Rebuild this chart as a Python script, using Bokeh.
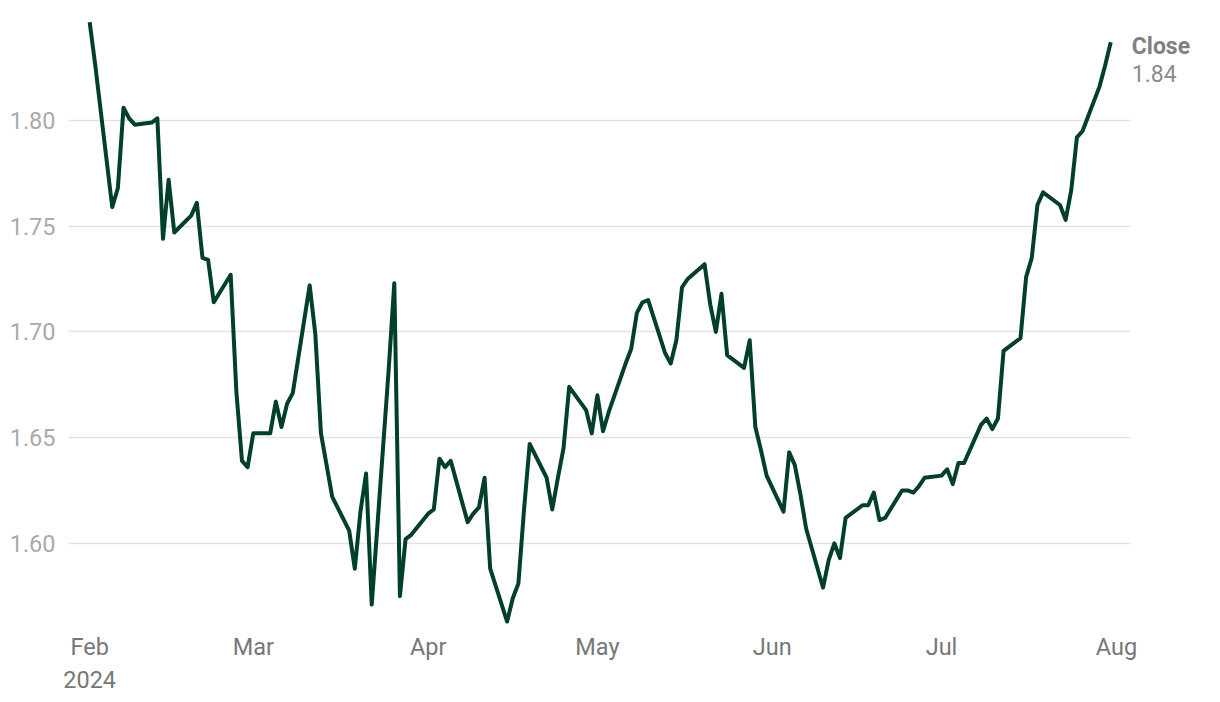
from datetime import datetime
from bokeh.plotting import figure
from bokeh.models import (ColumnDataSource, MonthsTicker, DatetimeTickFormatter,
                          Range1d, FixedTicker, Label, NumeralTickFormatter)
from bokeh.embed import file_html
from bokeh.resources import INLINE

# ---- data ----
feb_days = [1, 2, 5, 6, 7, 8, 9, 12, 13, 14, 15, 16, 19, 20, 21, 22, 23, 26, 27, 28, 29]
feb_close = [1.8465, 1.826, 1.759, 1.768, 1.806, 1.801, 1.798, 1.799, 1.801, 1.744, 1.772,
             1.747, 1.755, 1.761, 1.735, 1.734, 1.714, 1.727, 1.672, 1.639, 1.636]
mar_days = [1, 4, 5, 6, 7, 8, 11, 12, 13, 14, 15, 18, 19, 20, 21, 22, 25, 26, 27, 28, 29]
mar_close = [1.652, 1.652, 1.667, 1.655, 1.666, 1.671, 1.722, 1.699, 1.652, 1.637, 1.622,
             1.606, 1.588, 1.615, 1.633, 1.571, 1.682, 1.723, 1.575, 1.602, 1.604]
apr_days = [1, 2, 3, 4, 5, 8, 9, 10, 11, 12, 15, 16, 17, 18, 19, 22, 23, 24, 25, 26, 29, 30]
apr_close = [1.614, 1.616, 1.640, 1.636, 1.639, 1.610, 1.614, 1.617, 1.631, 1.588, 1.563,
             1.574, 1.581, 1.616, 1.647, 1.631, 1.616, 1.631, 1.645, 1.674, 1.663, 1.652]
may_days = [1, 2, 3, 6, 7, 8, 9, 10, 13, 14, 15, 16, 17, 20, 21, 22, 23, 24, 27, 28, 29, 30, 31]
may_close = [1.670, 1.653, 1.662, 1.685, 1.692, 1.709, 1.714, 1.715, 1.690, 1.685, 1.696,
             1.721, 1.725, 1.732, 1.713, 1.700, 1.718, 1.689, 1.683, 1.696, 1.655, 1.644, 1.632]
jun_days = [3, 4, 5, 6, 7, 10, 11, 12, 13, 14, 17, 18, 19, 20, 21, 24, 25, 26, 27, 28]
jun_close = [1.615, 1.643, 1.637, 1.623, 1.607, 1.579, 1.592, 1.600, 1.593, 1.612, 1.618,
             1.618, 1.624, 1.611, 1.612, 1.625, 1.625, 1.624, 1.627, 1.631]
jul_days = [1, 2, 3, 4, 5, 8, 9, 10, 11, 12, 15, 16, 17, 18, 19, 22, 23, 24, 25, 26, 29, 30, 31]
jul_close = [1.632, 1.635, 1.628, 1.638, 1.638, 1.656, 1.659, 1.654, 1.659, 1.691, 1.697,
             1.726, 1.735, 1.760, 1.766, 1.760, 1.753, 1.767, 1.792, 1.795, 1.816, 1.826, 1.837]

y_ticks = [1.60, 1.65, 1.70, 1.75, 1.80]
series_name = "Close"

months = [(2, feb_days, feb_close), (3, mar_days, mar_close), (4, apr_days, apr_close),
          (5, may_days, may_close), (6, jun_days, jun_close), (7, jul_days, jul_close)]
dates, closes = [], []
for m, ds, cs in months:
    for d, c in zip(ds, cs):
        dates.append(datetime(2024, m, d))
        closes.append(c)

src = ColumnDataSource(dict(date=dates, close=closes))

# layout: plotting area 68..1130 px, an extra 90 px on the right for the end label
W, H = 1220, 702
LEFT, LABEL_SPACE, TOP, BOTTOM = 68, 90, 10, 74
t0 = datetime(2024, 1, 28, 6)
t1 = datetime(2024, 8, 3, 12)
t0_ms, t1_ms = t0.timestamp() * 1000, t1.timestamp() * 1000
frame_w = W - LEFT
data_w = frame_w - LABEL_SPACE
t_end_ms = t0_ms + (t1_ms - t0_ms) * frame_w / data_w

FONT = "Roboto"
p = figure(width=W, height=H, x_axis_type="datetime", output_backend="svg",
           toolbar_location=None, tools="",
           x_range=Range1d(t0_ms, t_end_ms),
           y_range=Range1d(1.5597, 1.852),
           min_border_left=LEFT, min_border_right=0, min_border_top=TOP,
           min_border_bottom=BOTTOM)
p.outline_line_color = None
p.background_fill_color = "white"
p.border_fill_color = "white"

p.line("date", "close", source=src, line_color="#00402a", line_width=4, line_join="round")

# y axis
p.yaxis.ticker = FixedTicker(ticks=y_ticks)
p.yaxis.formatter = NumeralTickFormatter(format="0.00")
p.yaxis.axis_line_color = None
p.yaxis.major_tick_line_color = None
p.yaxis.minor_tick_line_color = None
p.yaxis.major_label_text_font = FONT
p.yaxis.major_label_text_font_size = "23.5px"
p.yaxis.major_label_text_color = "#aaaaaa"
p.yaxis.major_label_standoff = 7

# x axis
p.xaxis.ticker = MonthsTicker(months=list(range(12)))
p.xaxis.formatter = DatetimeTickFormatter(months="%b",
                                          context=DatetimeTickFormatter(months="%Y"),
                                          context_which="start")
p.xaxis.axis_line_color = None
p.xaxis.major_tick_line_color = None
p.xaxis.minor_tick_line_color = None
p.xaxis.major_label_text_font = FONT
p.xaxis.major_label_text_font_size = "23.5px"
p.xaxis.major_label_text_color = "#777777"
p.xaxis.major_label_standoff = -2

p.xgrid.grid_line_color = None
p.ygrid.grid_line_color = "#e3e3e3"
p.ygrid.grid_line_width = 1.5
p.ygrid.cross_bounds = (t0_ms, t1_ms)

# end label
p.add_layout(Label(x=dates[-1], y=closes[-1], text=series_name, x_offset=21, y_offset=-4,
                   text_font=FONT, text_font_size="23px", text_font_style="bold",
                   text_color="#808080", text_baseline="middle"))
p.add_layout(Label(x=dates[-1], y=closes[-1], text=f"{closes[-1]:.2f}", x_offset=21, y_offset=-31,
                   text_font=FONT, text_font_size="23px",
                   text_color="#8c8c8c", text_baseline="middle"))

open("out.html", "w").write(file_html(p, INLINE))
